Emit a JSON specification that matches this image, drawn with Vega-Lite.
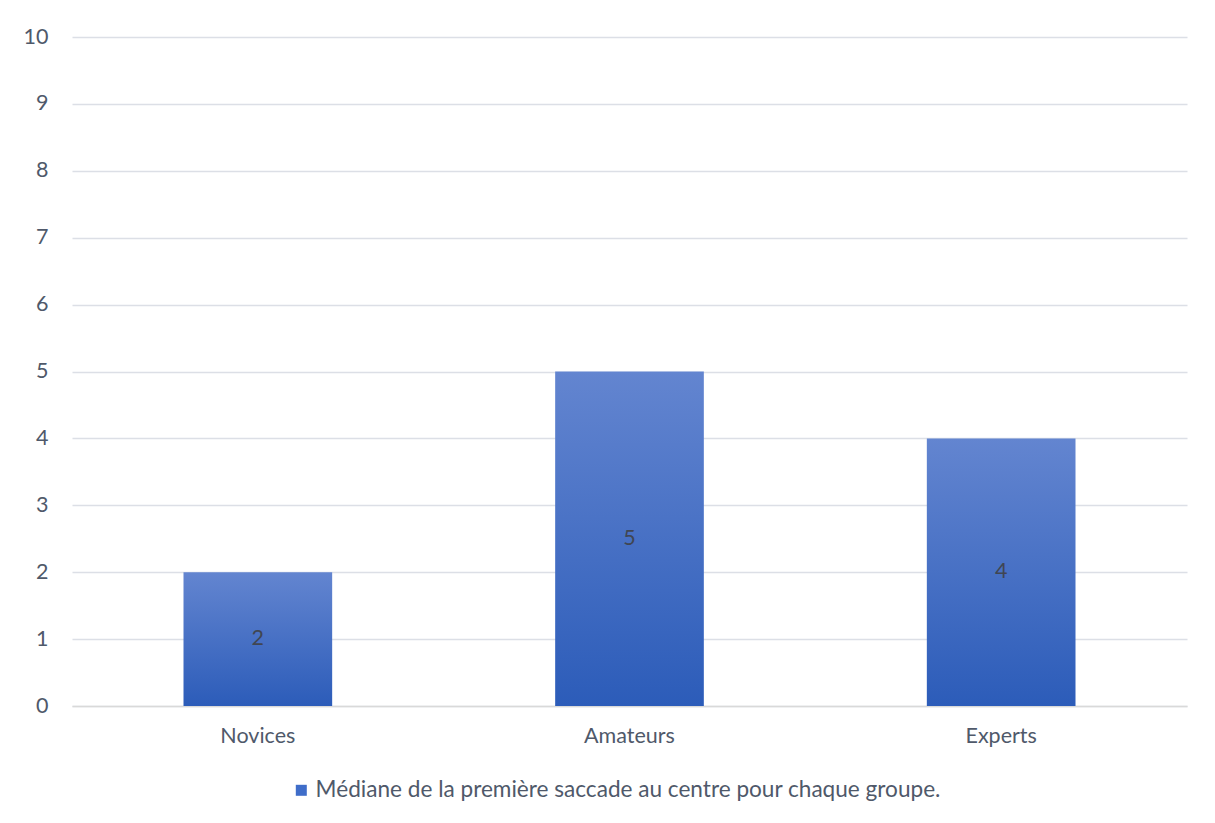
{
  "$schema": "https://vega.github.io/schema/vega-lite/v6.json",
  "width": 1115,
  "height": 669,
  "autosize": "none",
  "padding": {"left": 72, "top": 37, "right": 28, "bottom": 117},
  "background": "white",
  "config": {
    "font": "Lato",
    "view": {"stroke": null}
  },
  "data": {
    "values": [
      {"groupe": "Novices", "valeur": 2, "serie": "Médiane de la première saccade au centre pour chaque groupe."},
      {"groupe": "Amateurs", "valeur": 5, "serie": "Médiane de la première saccade au centre pour chaque groupe."},
      {"groupe": "Experts", "valeur": 4, "serie": "Médiane de la première saccade au centre pour chaque groupe."}
    ]
  },
  "encoding": {
    "x": {
      "field": "groupe",
      "type": "nominal",
      "sort": null,
      "scale": {"paddingInner": 0.6, "paddingOuter": 0.3},
      "axis": {
        "title": null,
        "labelAngle": 0,
        "ticks": false,
        "domainColor": "#D9D9D9",
        "domainWidth": 1.5,
        "labelPadding": 19,
        "labelFontSize": 21.5,
        "labelColor": "#4F596A"
      }
    }
  },
  "layer": [
    {
      "mark": {
        "type": "bar",
        "color": {
          "gradient": "linear",
          "x1": 0, "y1": 0, "x2": 0, "y2": 1,
          "stops": [
            {"offset": 0, "color": "#6385D0"},
            {"offset": 1, "color": "#2C5CB9"}
          ]
        }
      },
      "encoding": {
        "y": {
          "field": "valeur",
          "type": "quantitative",
          "scale": {"domain": [0, 10]},
          "axis": {
            "title": null,
            "values": [0,1,2,3,4,5,6,7,8,9,10],
            "domain": false,
            "ticks": false,
            "gridColor": "#DCDFE6",
            "gridWidth": 1.5,
            "labelPadding": 24,
            "labelFontSize": 21.5,
            "labelColor": "#4F596A"
          }
        }
      }
    },
    {
      "mark": {"type": "square", "opacity": 0, "size": 1},
      "encoding": {
        "y": {"field": "valeur", "type": "quantitative", "scale": {"domain": [0, 10]}, "axis": null},
        "color": {
          "field": "serie",
          "type": "nominal",
          "scale": {"range": ["#3F6DC9"]},
          "legend": {
            "title": null,
            "orient": "none",
            "legendX": 218,
            "legendY": 742,
            "direction": "horizontal",
            "symbolType": "square",
            "symbolSize": 121,
            "symbolOpacity": 1,
            "symbolStrokeWidth": 0,
            "labelOffset": 3,
            "labelFontSize": 22.6,
            "labelColor": "#4F596A",
            "labelLimit": 1000
          }
        }
      }
    },
    {
      "mark": {"type": "text", "fontSize": 21.5, "color": "#404652"},
      "encoding": {
        "y": {"field": "valeur", "type": "quantitative", "scale": {"domain": [0, 20]}, "axis": null},
        "text": {"field": "valeur", "type": "quantitative"}
      }
    }
  ],
  "resolve": {"scale": {"y": "independent"}}
}
